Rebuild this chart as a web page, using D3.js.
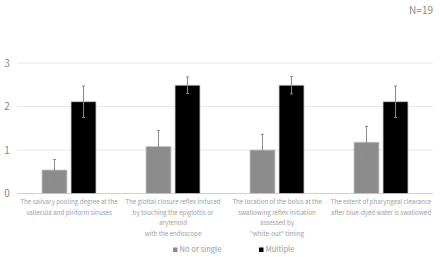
<!DOCTYPE html>
<html>
<head>
<meta charset="utf-8">
<script src="https://cdn.jsdelivr.net/npm/d3@7"></script>
<style>
  body { margin: 0; background: #fff; }
  svg { display: block; font-family: "Noto Sans CJK JP", "Noto Sans", sans-serif; }
</style>
</head>
<body>
<div class="chart"></div>
<script>
const WIDTH = 440, HEIGHT = 257;

// data
const categories = [
    ["The salivary pooling degree at the", "vallecula and piriform sinuses"],
    ["The glottal closure reflex induced", "by touching the epiglottis or", "arytenoid", "with the endoscope"],
    ["The location of the bolus at the", "swallowing reflex initiation", "assessed by", "\u201cwhite-out\u201d timing"],
    ["The extent of pharyngeal clearance", "after blue-dyed water is swallowed"]
];
const seriesNames = ["No or single", "Multiple"];
const noOrSingle = [0.54, 1.08, 1.0, 1.18];
const noOrSingleErr = [0.24, 0.37, 0.36, 0.36];
const multiple = [2.11, 2.49, 2.49, 2.11];
const multipleErr = [0.36, 0.19, 0.20, 0.36];
const yTicks = [0, 1, 2, 3];
const colors = ["#8c8c8c", "#000000"];

const margin = { left: 17, right: 7, top: 63, bottom: 63.5 };

const svg = d3.select(".chart").append("svg")
    .attr("width", WIDTH)
    .attr("height", HEIGHT);

const x = d3.scaleBand()
    .domain(d3.range(categories.length))
    .range([margin.left, WIDTH - margin.right]);

const inner = d3.scaleBand()
    .domain([0, 1])
    .range([x.bandwidth() / 2 - 27, x.bandwidth() / 2 + 27])
    .paddingInner(0.14);

const y = d3.scaleLinear()
    .domain([0, 3])
    .range([HEIGHT - margin.bottom, margin.top]);

// gridlines
svg.append("g")
    .selectAll("line")
    .data(yTicks)
    .join("line")
    .attr("x1", margin.left)
    .attr("x2", WIDTH - margin.right)
    .attr("y1", d => y(d))
    .attr("y2", d => y(d))
    .attr("stroke", d => d === 0 ? "#d0d0d0" : "#e8e8e8")
    .attr("stroke-width", 1);

// y tick labels
svg.append("g")
    .selectAll("text")
    .data(yTicks)
    .join("text")
    .attr("x", 7)
    .attr("y", d => y(d))
    .attr("dy", "0.35em")
    .attr("text-anchor", "middle")
    .attr("font-size", 10)
    .attr("fill", "#888")
    .text(d => d);

// bars
const series = [
    { vals: noOrSingle, errs: noOrSingleErr },
    { vals: multiple, errs: multipleErr }
];

series.forEach((s, si) => {
    const g = svg.append("g");
    g.selectAll("rect")
        .data(s.vals)
        .join("rect")
        .attr("x", (d, i) => x(i) + inner(si))
        .attr("y", d => y(d))
        .attr("width", inner.bandwidth())
        .attr("height", d => y(0) - y(d))
        .attr("fill", colors[si])
        .attr("stroke", "#c8c8c8")
        .attr("stroke-width", 0.8);

    // error bars
    s.vals.forEach((v, i) => {
        const cx = x(i) + inner(si) + inner.bandwidth() / 2;
        const e = s.errs[i];
        g.append("line")
            .attr("x1", cx).attr("x2", cx)
            .attr("y1", y(v + e)).attr("y2", y(v - e))
            .attr("stroke", "#8a8a8a").attr("stroke-width", 1);
        [v + e, v - e].forEach(t => {
            g.append("line")
                .attr("x1", cx - 1.5).attr("x2", cx + 1.5)
                .attr("y1", y(t)).attr("y2", y(t))
                .attr("stroke", "#8a8a8a").attr("stroke-width", 1);
        });
    });
});

// category labels
categories.forEach((lines, i) => {
    const t = svg.append("text")
        .attr("x", x(i) + x.bandwidth() / 2)
        .attr("y", 204)
        .attr("text-anchor", "middle")
        .attr("font-size", 6.2)
        .attr("fill", "#a0a0a0");
    lines.forEach((l, j) => {
        t.append("tspan")
            .attr("x", x(i) + x.bandwidth() / 2)
            .attr("dy", j === 0 ? 0 : 10.7)
            .text(l);
    });
});

// legend
const legendX = [173, 259];
seriesNames.forEach((name, i) => {
    svg.append("rect")
        .attr("x", legendX[i])
        .attr("y", 247.5)
        .attr("width", 4.5)
        .attr("height", 4.5)
        .attr("fill", colors[i]);
    svg.append("text")
        .attr("x", legendX[i] + 6.5)
        .attr("y", 249.5)
        .attr("dy", "0.35em")
        .attr("font-size", 7.6)
        .attr("fill", "#999")
        .text(name);
});

// N label
svg.append("text")
    .attr("x", 433)
    .attr("y", 10)
    .attr("dy", "0.35em")
    .attr("text-anchor", "end")
    .attr("font-size", 10)
    .attr("fill", "#888")
    .text("N=19");
</script>
</body>
</html>
